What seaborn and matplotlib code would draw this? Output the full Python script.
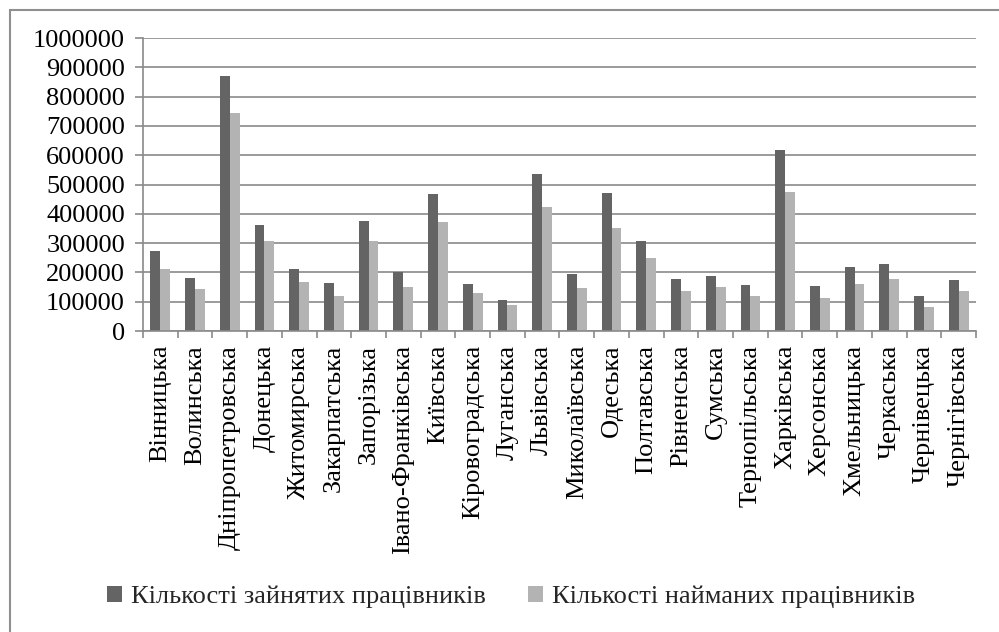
"""
Зайняті та наймані працівники за областями України — grouped bar chart.
"""

import pandas as pd
import matplotlib.pyplot as plt
import matplotlib.ticker as mticker
from matplotlib.patches import Patch, Rectangle
import seaborn as sns

# ── Data ────────────────────────────────────────────────────────────────────
regions = [
    "Вінницька", "Волинська", "Дніпропетровська", "Донецька", "Житомирська",
    "Закарпатська", "Запорізька", "Івано-Франківська", "Київська",
    "Кіровоградська", "Луганська", "Львівська", "Миколаївська", "Одеська",
    "Полтавська", "Рівненська", "Сумська", "Тернопільська", "Харківська",
    "Херсонська", "Хмельницька", "Черкаська", "Чернівецька", "Чернігівська",
]
employed = [
    273000, 182000, 871000, 362000, 212000, 164000, 375000, 200000, 468000,
    161000, 107000, 536000, 196000, 470000, 308000, 177000, 188000, 156000,
    618000, 154000, 218000, 228000, 120000, 175000,
]
hired = [
    211000, 143000, 744000, 307000, 166000, 118000, 307000, 150000, 371000,
    130000, 89000, 423000, 148000, 350000, 249000, 138000, 151000, 120000,
    474000, 114000, 160000, 177000, 82000, 138000,
]
series_names = ["Кількості зайнятих працівників", "Кількості найманих працівників"]
colors = ["#646464", "#b3b3b3"]

# ── Style ───────────────────────────────────────────────────────────────────
sns.set_theme(style="white")
FAMILY = ["Liberation Serif", "DejaVu Serif"]
plt.rcParams["font.family"] = FAMILY
FS = 19
GRID = "#8a8a8a"

df = pd.DataFrame({
    "region": regions * 2,
    "value": employed + hired,
    "series": [series_names[0]] * len(regions) + [series_names[1]] * len(regions),
})

fig = plt.figure(figsize=(9.99, 6.32), dpi=100)
ax = fig.add_axes([143 / 999, 1 - 331 / 632, (976 - 143) / 999, (331 - 38) / 632])

sns.barplot(
    data=df, x="region", y="value", hue="series", order=regions,
    hue_order=series_names, palette=colors, width=0.57, gap=0,
    saturation=1, legend=False, ax=ax, linewidth=0,
)

ax.set_xlim(-0.5, len(regions) - 0.5)
ax.set_ylim(0, 1000000)
ax.yaxis.set_major_locator(mticker.MultipleLocator(100000))
ax.yaxis.set_major_formatter(mticker.FuncFormatter(lambda v, _: f"{v:.0f}"))
ax.set_axisbelow(True)
ax.grid(axis="y", color=GRID, linewidth=1.2)
ax.grid(axis="x", visible=False)
ax.set_xlabel("")
ax.set_ylabel("")

for side in ["top", "right"]:
    ax.spines[side].set_visible(False)
for side in ["left", "bottom"]:
    ax.spines[side].set_color(GRID)
    ax.spines[side].set_linewidth(1.2)

ax.tick_params(axis="y", length=6, width=1.2, color=GRID, pad=7,
               labelsize=FS, labelcolor="black", left=True)
ax.set_xticks(range(len(regions)))
ax.set_xticklabels(regions, rotation=90, fontsize=FS, family=FAMILY)
ax.tick_params(axis="x", which="major", length=0, pad=10, labelcolor="black")
ax.set_xticks([i - 0.5 for i in range(len(regions) + 1)], minor=True)
ax.tick_params(axis="x", which="minor", length=5, width=1.2, color=GRID, bottom=True)

# legend under the chart
handles = [Patch(facecolor=c, edgecolor="none") for c in colors]
fig.legend(
    handles, series_names, loc="center", bbox_to_anchor=(511 / 999, 1 - 597 / 632),
    ncol=2, frameon=False, prop={"family": FAMILY, "size": FS},
    handlelength=0.55, handleheight=0.55, handletextpad=0.35, columnspacing=1.6,
)

# outer chart border (right and bottom edges fall outside the picture)
fig.add_artist(Rectangle((9.5 / 999, -0.05), 1.2, 1 - 9.5 / 632 + 0.05,
                         transform=fig.transFigure, fill=False,
                         edgecolor="#8f8f8f", linewidth=1.5))

fig.savefig("out.png", dpi=100)
